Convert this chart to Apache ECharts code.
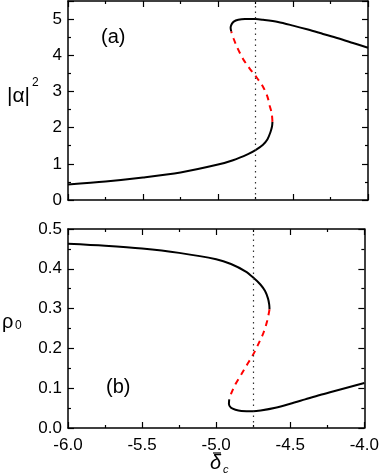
<!DOCTYPE html>
<html>
<head>
<meta charset="UTF-8">
<title>bistability</title>
<script src="https://cdn.jsdelivr.net/npm/echarts@6/dist/echarts.min.js"></script>
<style>
  html, body { margin: 0; padding: 0; background: #fff; }
  #chart { width: 382px; height: 476px; }
</style>
</head>
<body>
<div id="chart"></div>
<script>
// panel (a): |alpha|^2 vs detuning
const aLowStable = [[-6.0,0.43],[-5.75,0.51],[-5.5,0.62],[-5.25,0.76],[-5.0,0.98],[-4.9,1.10],[-4.8,1.27],[-4.75,1.38],[-4.7,1.53],[-4.67,1.68],[-4.65,1.88],[-4.64,2.03],[-4.637,2.16]];
const aUnstable = [[-4.637,2.16],[-4.642,2.40],[-4.655,2.60],[-4.67,2.85],[-4.70,3.13],[-4.75,3.43],[-4.79,3.64],[-4.833,3.90],[-4.87,4.20],[-4.897,4.47],[-4.912,4.66]];
const aHighStable = [[-4.912,4.66],[-4.916,4.76],[-4.91,4.85],[-4.895,4.93],[-4.865,4.98],[-4.82,5.0],[-4.75,5.0],[-4.7,4.98],[-4.6,4.92],[-4.5,4.82],[-4.4,4.71],[-4.3,4.59],[-4.2,4.47],[-4.1,4.34],[-4.0,4.21]];
// panel (b): rho_0 vs detuning
const bHighStable = [[-6.0,0.463],[-5.75,0.458],[-5.5,0.451],[-5.25,0.440],[-5.0,0.424],[-4.9,0.412],[-4.8,0.393],[-4.75,0.378],[-4.7,0.360],[-4.67,0.344],[-4.65,0.325],[-4.642,0.31],[-4.64,0.298]];
const bUnstable = [[-4.64,0.298],[-4.655,0.27],[-4.68,0.24],[-4.71,0.215],[-4.75,0.185],[-4.79,0.16],[-4.83,0.135],[-4.87,0.11],[-4.897,0.088],[-4.912,0.072]];
const bLowStable = [[-4.912,0.072],[-4.914,0.060],[-4.90,0.051],[-4.87,0.046],[-4.83,0.043],[-4.75,0.042],[-4.7,0.044],[-4.6,0.051],[-4.5,0.061],[-4.4,0.072],[-4.3,0.083],[-4.2,0.093],[-4.1,0.103],[-4.0,0.113]];
const markX = -4.75;
const xTicks = { min: -6, max: -4, interval: 0.5 };

const chart = echarts.init(document.getElementById('chart'));
const font = 'Liberation Sans';
const black = '#000';

function xAx(grid, pos, labels) {
  return {
    type: 'value', gridIndex: grid, position: pos,
    min: xTicks.min, max: xTicks.max, interval: xTicks.interval,
    axisLine: { show: true, onZero: false, lineStyle: { color: black, width: 1.5 } },
    axisTick: { show: true, inside: true, length: 6, lineStyle: { color: black, width: 1.2 } },
    minorTick: { show: true, splitNumber: 2, length: 3, lineStyle: { color: black, width: 1.2 } },
    axisLabel: { show: labels, color: black, fontFamily: font, fontSize: 17, margin: 9,
      formatter: v => v.toFixed(1) },
    splitLine: { show: false }
  };
}
function yAx(grid, pos, max, step, labels, fmt) {
  return {
    type: 'value', gridIndex: grid, position: pos,
    min: 0, max: max, interval: step,
    axisLine: { show: true, onZero: false, lineStyle: { color: black, width: 1.5 } },
    axisTick: { show: true, inside: true, length: 6, lineStyle: { color: black, width: 1.2 } },
    minorTick: { show: true, splitNumber: 2, length: 3, lineStyle: { color: black, width: 1.2 } },
    axisLabel: { show: labels, color: black, fontFamily: font, fontSize: 17, margin: 6,
      formatter: fmt },
    splitLine: { show: false }
  };
}
function curve(data, xi, yi, dashed) {
  return {
    type: 'line', data: data, xAxisIndex: xi, yAxisIndex: yi,
    showSymbol: false, smooth: 0.3, animation: false,
    lineStyle: dashed ? { color: '#ff0000', width: 2, type: [6, 5] } : { color: black, width: 2 }
  };
}
function vline(xi, yi) {
  return {
    type: 'line', data: [], xAxisIndex: xi, yAxisIndex: yi,
    markLine: {
      silent: true, symbol: 'none', animation: false, label: { show: false },
      lineStyle: { color: '#333', width: 1.2, type: [1.5, 4] },
      data: [{ xAxis: markX }]
    }
  };
}
function txt(s, x, y, size, italic) {
  return { type: 'text', left: x, top: y,
    style: { text: s, fontSize: size, fontFamily: font, fontStyle: italic ? 'italic' : 'normal', fill: black } };
}

chart.setOption({
  animation: false,
  grid: [
    { left: 68, right: 14, top: 1, height: 199 },
    { left: 68, right: 14, top: 229, height: 199 }
  ],
  xAxis: [xAx(0, 'bottom', false), xAx(0, 'top', false), xAx(1, 'bottom', true), xAx(1, 'top', false)],
  yAxis: [
    yAx(0, 'left', 5.5, 1, true, v => (v > 5 ? '' : String(v))),
    yAx(0, 'right', 5.5, 1, false),
    yAx(1, 'left', 0.5, 0.1, true, v => v.toFixed(1)),
    yAx(1, 'right', 0.5, 0.1, false)
  ],
  series: [
    vline(0, 0),
    curve(aLowStable, 0, 0, false),
    curve(aUnstable, 0, 0, true),
    curve(aHighStable, 0, 0, false),
    vline(2, 2),
    curve(bHighStable, 2, 2, false),
    curve(bUnstable, 2, 2, true),
    curve(bLowStable, 2, 2, false)
  ],
  graphic: [
    txt('(a)', 101, 27, 20),
    txt('(b)', 106, 377, 20),
    txt('|α|', 7, 86, 21),
    txt('2', 32, 77, 12),
    txt('ρ', 2, 312, 20),
    txt('0', 15, 320, 12),
    txt('δ', 210, 453, 20, true),
    txt('c', 223, 464, 11, true),
    { type: 'line', shape: { x1: 213, y1: 453, x2: 221, y2: 453 }, style: { stroke: black, lineWidth: 1.2 } }
  ]
});
</script>
</body>
</html>
